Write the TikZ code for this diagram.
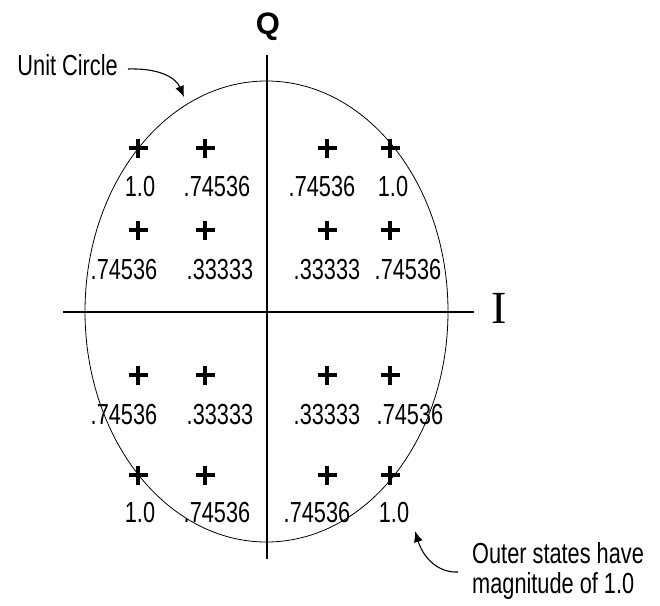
\documentclass[tikz,border=0pt]{standalone}
\usepackage{fontspec}
\setmainfont{Liberation Sans}
\newfontfamily\narrowfont[FakeStretch=0.75]{Liberation Sans}
\newfontfamily\serifI{Liberation Serif}
\usetikzlibrary{arrows.meta,shapes.geometric}
\begin{document}
\begin{tikzpicture}[x=1pt,y=-1pt,
  state/.style={minimum size=19pt, inner sep=0pt, outer sep=0pt},
  plusline/.style={line width=3.2pt},
  val/.style={inner sep=0pt, font=\narrowfont\fontsize{29}{32}\selectfont},
  note/.style={inner sep=0pt, align=left, font=\narrowfont\fontsize{29}{30}\selectfont},
  axis/.style={line width=1.6pt},
  pointer/.style={line width=1.1pt, -{Latex[length=11pt,width=9pt]}}]
\useasboundingbox (0,0) rectangle (660,605);

% unit circle
\node[ellipse, draw, line width=0.8pt, minimum width=363pt, minimum height=461pt, inner sep=0pt] (uc) at (266.5,311.5) {};

% axes
\coordinate (qtop) at (267,55);
\coordinate (qbot) at (267,559);
\coordinate (ileft) at (63,312);
\coordinate (iright) at (474,312);
\draw[axis] (qtop) -- (qbot);
\draw[axis] (ileft) -- (iright);
\node[inner sep=0pt, font=\bfseries\fontsize{31}{34}\selectfont] (Q) at (268,27) {Q};
\node[inner sep=0pt, font=\serifI\fontsize{46}{50}\selectfont] (I) at (499,308) {I};

% states
\node[state] (s11) at (138,148) {};
\node[state] (s12) at (205,148) {};
\node[state] (s13) at (327,148) {};
\node[state] (s14) at (390,148) {};
\node[state] (s21) at (138,230) {};
\node[state] (s22) at (205,230) {};
\node[state] (s23) at (327,230) {};
\node[state] (s24) at (390,230) {};
\node[state] (s31) at (138,375) {};
\node[state] (s32) at (205,375) {};
\node[state] (s33) at (327,375) {};
\node[state] (s34) at (390,375) {};
\node[state] (s41) at (138,475) {};
\node[state] (s42) at (205,475) {};
\node[state] (s43) at (327,475) {};
\node[state] (s44) at (390,475) {};
\foreach \s in {s11,s12,s13,s14,s21,s22,s23,s24,s31,s32,s33,s34,s41,s42,s43,s44}
  \draw[plusline] (\s.north) -- (\s.south) (\s.west) -- (\s.east);

% magnitudes
\node[val] (m11) at (140,187) {1.0};
\node[val] (m12) at (217,187) {.74536};
\node[val] (m13) at (322,187) {.74536};
\node[val] (m14) at (393,187) {1.0};
\node[val] (m21) at (124,270) {.74536};
\node[val] (m22) at (220,270) {.33333};
\node[val] (m23) at (327,270) {.33333};
\node[val] (m24) at (408,270) {.74536};
\node[val] (m31) at (124,415) {.74536};
\node[val] (m32) at (220,415) {.33333};
\node[val] (m33) at (327,415) {.33333};
\node[val] (m34) at (410,415) {.74536};
\node[val] (m41) at (140,513) {1.0};
\node[val] (m42) at (217,513) {.74536};
\node[val] (m43) at (317,513) {.74536};
\node[val] (m44) at (394,513) {1.0};

% annotations
\node[note, anchor=east] (ucl) at (118,65) {Unit Circle};
\coordinate (uctip) at (184,97);
\draw[pointer] (ucl.east) ++(10,4) .. controls (160,68) and (176,78) .. (uctip);

\node[note, anchor=north west] (osl) at (472,542) {Outer states have\\magnitude of 1.0};
\coordinate (ostip) at (415,531);
\coordinate (osstart) at (458,572);
\draw[pointer] (osstart) .. controls (440,573) and (424,560) .. (ostip);
\end{tikzpicture}
\end{document}
